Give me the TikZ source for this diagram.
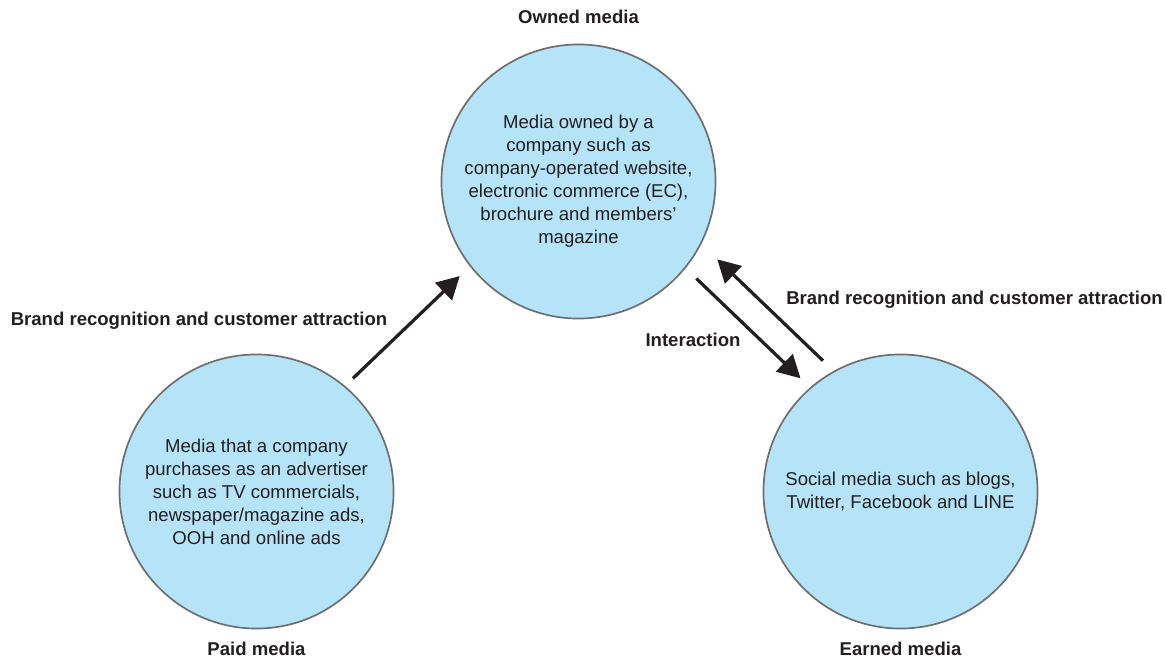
\documentclass[tikz,border=0pt]{standalone}
\usepackage{fontspec}
\setmainfont{Liberation Sans}
\usetikzlibrary{positioning, arrows.meta}
\definecolor{mediablue}{HTML}{B5E3F8}
\definecolor{rimgray}{HTML}{6E6E6E}
\definecolor{inkblack}{HTML}{231F20}
\tikzset{
	medianode/.style={
			circle,
			draw=rimgray,
			line width=1.2pt,
			fill=mediablue,
			minimum size=6.85cm,
			inner sep=0pt,
			align=center,
			text=inkblack,
			font=\fontsize{13.2}{16.4}\selectfont
		},
	titlenode/.style={
			inner sep=0pt,
			text=inkblack,
			font=\fontsize{13.2}{15}\selectfont\bfseries
		},
	flowarrow/.style={
			-{Triangle[length=16pt,width=17pt]},
			line width=2.3pt,
			draw=inkblack
		}
}

\begin{document}
\begin{tikzpicture}[x=0.025cm, y=-0.025cm]
\useasboundingbox (0,0) rectangle (1166,657);

\node[medianode] (tOwned) at (578.5,181.5) {Media owned by a\\company such as\\company-operated website,\\electronic commerce (EC),\\brochure and members’\\magazine};
\node[medianode] (tPaid) at (256.5,491.5) {Media that a company\\purchases as an advertiser\\such as TV commercials,\\newspaper/magazine ads,\\OOH and online ads};
\node[medianode] (tEarned) at (900.5,491.5) {Social media such as blogs,\\Twitter, Facebook and LINE};

\node[titlenode, above=0.5cm of tOwned] (lOwned) {Owned media};
\node[titlenode, below=0.3cm of tPaid] (lPaid) {Paid media};
\node[titlenode, below=0.3cm of tEarned] (lEarned) {Earned media};

\node[titlenode] (lPaidFlow) at (199,321) {Brand recognition and customer attraction};
\node[titlenode] (lEarnedFlow) at (974.5,300) {Brand recognition and customer attraction};
\node[titlenode] (lInteraction) at (693,340) {Interaction};

\draw[flowarrow, shorten <=0.27cm, shorten >=0.35cm] (tPaid.50) -- (tOwned.218);
\draw[flowarrow, shorten <=0.37cm, shorten >=0.33cm] (tOwned.321) -- (tEarned.131);
\draw[flowarrow, shorten <=0.37cm, shorten >=0.55cm] (tEarned.119) -- (tOwned.333);

\end{tikzpicture}
\end{document}
